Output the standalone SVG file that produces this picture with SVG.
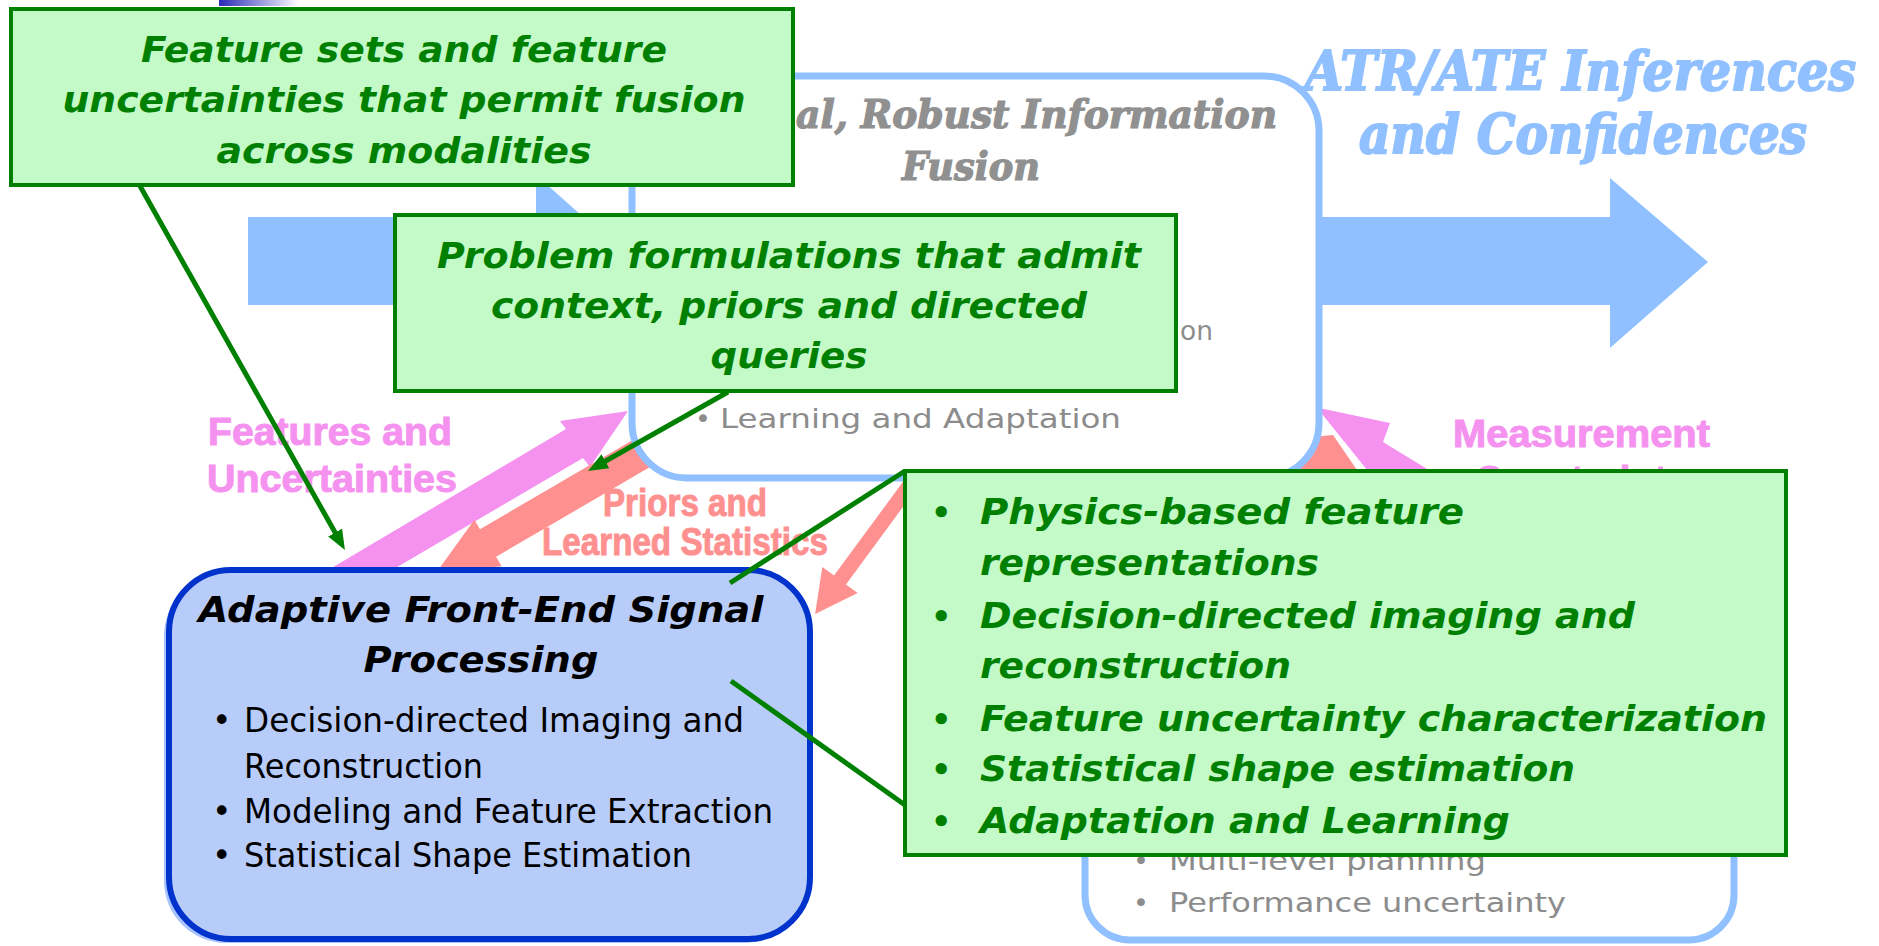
<svg xmlns="http://www.w3.org/2000/svg" width="1879" height="946" viewBox="0 0 1879 946">
<defs>
<linearGradient id="topGrad" x1="0" y1="0" x2="1" y2="0">
<stop offset="0" stop-color="#2a2ab8"/>
<stop offset="1" stop-color="#ffffff"/>
</linearGradient>
<marker id="greenArrow" markerUnits="userSpaceOnUse" viewBox="0 0 20 16" refX="12" refY="8" markerWidth="20" markerHeight="16" orient="auto">
<path d="M0,0 L20,8 L0,16 z" fill="#008000"/>
</marker>
<style>
.note { fill:#c4fac8; stroke:#008000; stroke-width:4; }
.noteText { font-family:"DejaVu Sans", Verdana, sans-serif; font-weight:bold; font-style:italic; font-size:35px; fill:#008000; }
.bullet { font-family:"DejaVu Sans", Verdana, sans-serif; font-weight:bold; font-size:32px; fill:#008000; }
.bigArrow { fill:#90c0ff; }
.pink { fill:#f592f0; }
.salmon { fill:#ff9090; }
.frame { fill:#ffffff; stroke:#90c0ff; stroke-width:7; }
.grayTitle { font-family:"DejaVu Serif", serif; font-weight:bold; font-style:italic; font-stretch:condensed; font-size:40px; fill:#909090; stroke:#909090; stroke-width:1.2; }
.atr { font-family:"DejaVu Serif", serif; font-weight:bold; font-style:italic; font-stretch:condensed; font-size:54px; fill:#90c0ff; stroke:#90c0ff; stroke-width:1.8; }
.gray { font-family:"DejaVu Sans", sans-serif; font-size:27px; fill:#8c8c8c; }
.flowLabel { font-family:"Liberation Sans", Arial, sans-serif; font-weight:bold; font-size:38px; stroke-width:1; }
.conn { stroke:#008000; stroke-width:5; fill:none; }
.feBox { fill:#b8ccfa; stroke:#0033cc; stroke-width:6; }
.feShadow { fill:#aac4ff; }
.feTitle { font-family:"DejaVu Sans", Tahoma, sans-serif; font-weight:bold; font-style:italic; font-size:36px; fill:#000000; }
.feItem { font-family:"DejaVu Sans", Tahoma, sans-serif; font-size:33px; fill:#000000; }
</style>
</defs>
<rect width="1879" height="946" fill="#ffffff"/>
<rect x="219" y="0" width="80" height="6" fill="url(#topGrad)"/>

<g id="big-arrows">
<polygon class="bigArrow" points="248,217 536,217 536,175 634,262 536,349 536,305 248,305"/>
<polygon class="bigArrow" points="1319,217 1610,217 1610,178 1708,262 1610,348 1610,305 1319,305"/>
</g>

<g id="flow-arrows">
<polygon class="pink" points="308,582 566,429 560,421 628,411 590,467 583,458 324,610"/>
<polygon class="salmon" points="695.9,403.2 479.9,529.2 474.4,519.7 436,573 501.6,566.3 496.1,556.8 712.1,430.8"/>
<polygon class="salmon" points="909,473.6 834,575.6 822.3,567 815.1,613.9 857.7,593 846,584.4 921,482.4"/>
<polygon class="salmon" points="1280,440 1333,435 1368,486 1290,486"/>
<polygon class="pink" points="1305,405 1390,423 1383,442 1455,486 1380,486 1322,414"/>
</g>

<g id="fusion-node">
<rect class="frame" x="632" y="76" width="687" height="402" rx="55" ry="55"/>
<text class="grayTitle" x="796" y="128" textLength="481" lengthAdjust="spacingAndGlyphs">al, Robust Information</text>
<text class="grayTitle" x="971" y="180" text-anchor="middle" textLength="138" lengthAdjust="spacingAndGlyphs">Fusion</text>
<text class="gray" x="1180" y="340" textLength="33" lengthAdjust="spacingAndGlyphs">on</text>
<text class="gray" x="695" y="428">•</text>
<text class="gray" x="720" y="428" textLength="401" lengthAdjust="spacingAndGlyphs">Learning and Adaptation</text>
</g>

<g id="planning-node">
<rect class="frame" x="1085" y="560" width="649" height="380" rx="45" ry="45"/>
<text class="gray" x="1133" y="870">•</text>
<text class="gray" x="1169" y="870" textLength="317" lengthAdjust="spacingAndGlyphs">Multi-level planning</text>
<text class="gray" x="1133" y="912">•</text>
<text class="gray" x="1169" y="912" textLength="397" lengthAdjust="spacingAndGlyphs">Performance uncertainty</text>
</g>

<g id="atr-output">
<text class="atr" x="1305" y="90" textLength="551" lengthAdjust="spacingAndGlyphs">ATR/ATE Inferences</text>
<text class="atr" x="1359" y="153" textLength="448" lengthAdjust="spacingAndGlyphs">and Confidences</text>
</g>

<g id="flow-labels">
<text class="flowLabel" fill="#f592f0" stroke="#f592f0" x="208" y="445" textLength="244" lengthAdjust="spacingAndGlyphs">Features and</text>
<text class="flowLabel" fill="#f592f0" stroke="#f592f0" x="207" y="492" textLength="250" lengthAdjust="spacingAndGlyphs">Uncertainties</text>
<text class="flowLabel" fill="#ff9090" stroke="#ff9090" x="603" y="516" font-size="28" textLength="164" lengthAdjust="spacingAndGlyphs">Priors and</text>
<text class="flowLabel" fill="#ff9090" stroke="#ff9090" x="542" y="555" font-size="28" textLength="286" lengthAdjust="spacingAndGlyphs">Learned Statistics</text>
<text class="flowLabel" fill="#f592f0" stroke="#f592f0" x="1453" y="447" textLength="257" lengthAdjust="spacingAndGlyphs">Measurement</text>
<text class="flowLabel" fill="#f592f0" stroke="#f592f0" x="1475" y="493" textLength="213" lengthAdjust="spacingAndGlyphs">Constraints</text>
</g>

<g id="frontend-node">
<rect class="feShadow" x="164" y="574" width="641" height="369" rx="62" ry="62"/>
<rect class="feBox" x="169" y="570" width="641" height="369" rx="62" ry="62"/>
<text class="feTitle" x="481" y="622" text-anchor="middle" textLength="565" lengthAdjust="spacingAndGlyphs">Adaptive Front-End Signal</text>
<text class="feTitle" x="481" y="672" text-anchor="middle" textLength="235" lengthAdjust="spacingAndGlyphs">Processing</text>
<text class="feItem" x="212" y="732">•</text>
<text class="feItem" x="244" y="732" textLength="500" lengthAdjust="spacingAndGlyphs">Decision-directed Imaging and</text>
<text class="feItem" x="244" y="778" textLength="239" lengthAdjust="spacingAndGlyphs">Reconstruction</text>
<text class="feItem" x="212" y="823">•</text>
<text class="feItem" x="244" y="823" textLength="529" lengthAdjust="spacingAndGlyphs">Modeling and Feature Extraction</text>
<text class="feItem" x="212" y="867">•</text>
<text class="feItem" x="244" y="867" textLength="448" lengthAdjust="spacingAndGlyphs">Statistical Shape Estimation</text>
</g>

<g id="note-features">
<rect class="note" x="11" y="9" width="782" height="176"/>
<text class="noteText" x="404" y="62" text-anchor="middle" textLength="526" lengthAdjust="spacingAndGlyphs">Feature sets and feature</text>
<text class="noteText" x="404" y="112" text-anchor="middle" textLength="683" lengthAdjust="spacingAndGlyphs">uncertainties that permit fusion</text>
<text class="noteText" x="404" y="163" text-anchor="middle" textLength="375" lengthAdjust="spacingAndGlyphs">across modalities</text>
</g>

<g id="note-problem">
<rect class="note" x="395" y="215" width="781" height="176"/>
<text class="noteText" x="789" y="268" text-anchor="middle" textLength="704" lengthAdjust="spacingAndGlyphs">Problem formulations that admit</text>
<text class="noteText" x="789" y="318" text-anchor="middle" textLength="596" lengthAdjust="spacingAndGlyphs">context, priors and directed</text>
<text class="noteText" x="789" y="368" text-anchor="middle" textLength="157" lengthAdjust="spacingAndGlyphs">queries</text>
</g>

<g id="note-physics">
<rect class="note" x="905" y="471" width="881" height="384"/>
<text class="bullet" x="931" y="524">•</text>
<text class="noteText" x="980" y="524" textLength="484" lengthAdjust="spacingAndGlyphs">Physics-based  feature</text>
<text class="noteText" x="980" y="575" textLength="339" lengthAdjust="spacingAndGlyphs">representations</text>
<text class="bullet" x="931" y="628">•</text>
<text class="noteText" x="980" y="628" textLength="655" lengthAdjust="spacingAndGlyphs">Decision-directed imaging and</text>
<text class="noteText" x="980" y="678" textLength="311" lengthAdjust="spacingAndGlyphs">reconstruction</text>
<text class="bullet" x="931" y="731">•</text>
<text class="noteText" x="980" y="731" textLength="787" lengthAdjust="spacingAndGlyphs">Feature uncertainty characterization</text>
<text class="bullet" x="931" y="781">•</text>
<text class="noteText" x="980" y="781" textLength="595" lengthAdjust="spacingAndGlyphs">Statistical shape estimation</text>
<text class="bullet" x="931" y="833">•</text>
<text class="noteText" x="980" y="833" textLength="530" lengthAdjust="spacingAndGlyphs">Adaptation and Learning</text>
</g>

<g id="connectors">
<line class="conn" x1="140" y1="186" x2="341" y2="543" marker-end="url(#greenArrow)"/>
<line class="conn" x1="728" y1="392" x2="595" y2="467" marker-end="url(#greenArrow)"/>
<line class="conn" x1="905" y1="471" x2="730" y2="583"/>
<line class="conn" x1="905" y1="805" x2="731" y2="681"/>
</g>
</svg>
